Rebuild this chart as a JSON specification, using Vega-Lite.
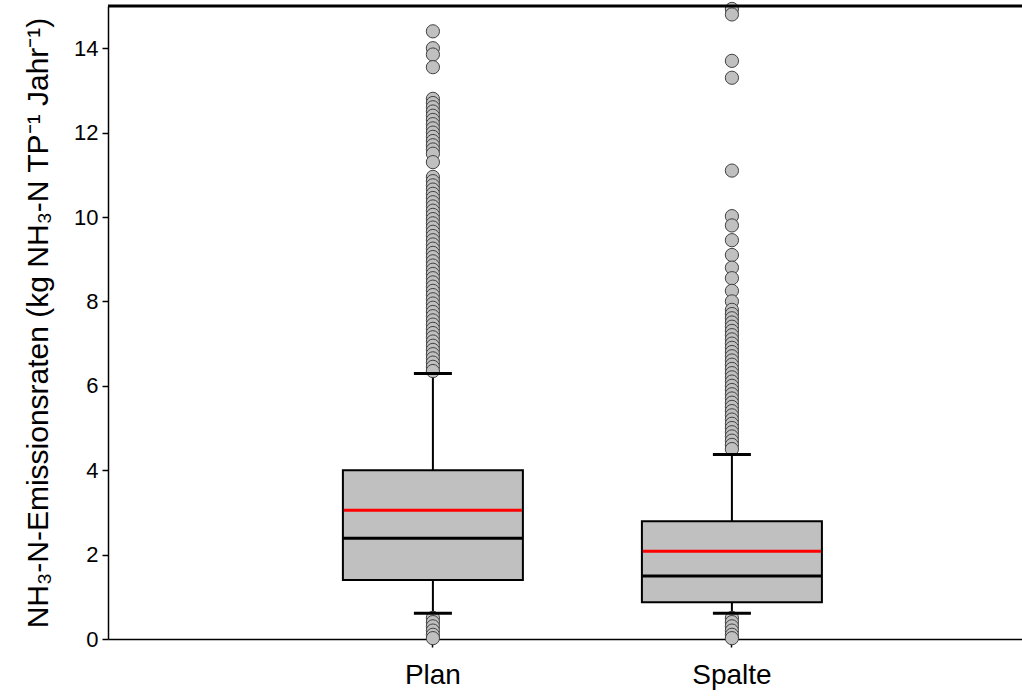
{
  "$schema": "https://vega.github.io/schema/vega-lite/v6.json",
  "autosize": "none",
  "width": 914,
  "height": 633,
  "padding": {"left": 108, "top": 6, "right": 0, "bottom": 57},
  "background": "white",
  "config": {
    "view": {"stroke": null},
    "font": "Liberation Sans",
    "axis": {"domainColor": "black", "tickColor": "black", "labelColor": "black", "titleColor": "black", "grid": false, "labelFont": "Liberation Sans", "titleFont": "Liberation Sans", "titleFontWeight": "normal"}
  },
  "datasets": {
    "box": [
      {"group": "Plan", "q1": 1.4, "q3": 4.0, "median": 2.39, "mean": 3.05, "lo": 0.61, "hi": 6.29},
      {"group": "Spalte", "q1": 0.87, "q3": 2.79, "median": 1.49, "mean": 2.08, "lo": 0.61, "hi": 4.37}
    ],
    "out": [
      {"group": "Plan", "value": 14.4}, {"group": "Plan", "value": 14.0}, {"group": "Plan", "value": 13.85}, {"group": "Plan", "value": 13.55},
      {"group": "Plan", "value": 12.8}, {"group": "Plan", "value": 12.7}, {"group": "Plan", "value": 12.6}, {"group": "Plan", "value": 12.5},
      {"group": "Plan", "value": 12.4}, {"group": "Plan", "value": 12.3}, {"group": "Plan", "value": 12.2}, {"group": "Plan", "value": 12.1},
      {"group": "Plan", "value": 12.0}, {"group": "Plan", "value": 11.9}, {"group": "Plan", "value": 11.8}, {"group": "Plan", "value": 11.7},
      {"group": "Plan", "value": 11.6}, {"group": "Plan", "value": 11.5}, {"group": "Plan", "value": 11.3}, {"group": "Plan", "value": 10.95},
      {"group": "Plan", "value": 10.85}, {"group": "Plan", "value": 10.75}, {"group": "Plan", "value": 10.65}, {"group": "Plan", "value": 10.55},
      {"group": "Plan", "value": 10.45}, {"group": "Plan", "value": 10.35}, {"group": "Plan", "value": 10.25}, {"group": "Plan", "value": 10.15},
      {"group": "Plan", "value": 10.05}, {"group": "Plan", "value": 9.95}, {"group": "Plan", "value": 9.85}, {"group": "Plan", "value": 9.75},
      {"group": "Plan", "value": 9.65}, {"group": "Plan", "value": 9.55}, {"group": "Plan", "value": 9.45}, {"group": "Plan", "value": 9.35},
      {"group": "Plan", "value": 9.25}, {"group": "Plan", "value": 9.15}, {"group": "Plan", "value": 9.05}, {"group": "Plan", "value": 8.95},
      {"group": "Plan", "value": 8.85}, {"group": "Plan", "value": 8.75}, {"group": "Plan", "value": 8.65}, {"group": "Plan", "value": 8.55},
      {"group": "Plan", "value": 8.45}, {"group": "Plan", "value": 8.35}, {"group": "Plan", "value": 8.25}, {"group": "Plan", "value": 8.15},
      {"group": "Plan", "value": 8.05}, {"group": "Plan", "value": 7.95}, {"group": "Plan", "value": 7.85}, {"group": "Plan", "value": 7.75},
      {"group": "Plan", "value": 7.65}, {"group": "Plan", "value": 7.55}, {"group": "Plan", "value": 7.45}, {"group": "Plan", "value": 7.35},
      {"group": "Plan", "value": 7.25}, {"group": "Plan", "value": 7.15}, {"group": "Plan", "value": 7.05}, {"group": "Plan", "value": 6.95},
      {"group": "Plan", "value": 6.85}, {"group": "Plan", "value": 6.75}, {"group": "Plan", "value": 6.65}, {"group": "Plan", "value": 6.55},
      {"group": "Plan", "value": 6.45}, {"group": "Plan", "value": 6.35},
      {"group": "Plan", "value": 0.5}, {"group": "Plan", "value": 0.4}, {"group": "Plan", "value": 0.3}, {"group": "Plan", "value": 0.2},
      {"group": "Plan", "value": 0.1}, {"group": "Plan", "value": 0.02},
      {"group": "Spalte", "value": 14.93}, {"group": "Spalte", "value": 14.8}, {"group": "Spalte", "value": 13.7}, {"group": "Spalte", "value": 13.3},
      {"group": "Spalte", "value": 11.1}, {"group": "Spalte", "value": 10.02}, {"group": "Spalte", "value": 9.8}, {"group": "Spalte", "value": 9.45},
      {"group": "Spalte", "value": 9.1}, {"group": "Spalte", "value": 8.8}, {"group": "Spalte", "value": 8.55}, {"group": "Spalte", "value": 8.25},
      {"group": "Spalte", "value": 8.0}, {"group": "Spalte", "value": 7.8}, {"group": "Spalte", "value": 7.7}, {"group": "Spalte", "value": 7.6},
      {"group": "Spalte", "value": 7.5}, {"group": "Spalte", "value": 7.4}, {"group": "Spalte", "value": 7.3}, {"group": "Spalte", "value": 7.2},
      {"group": "Spalte", "value": 7.1}, {"group": "Spalte", "value": 7.0}, {"group": "Spalte", "value": 6.9}, {"group": "Spalte", "value": 6.8},
      {"group": "Spalte", "value": 6.7}, {"group": "Spalte", "value": 6.6}, {"group": "Spalte", "value": 6.5}, {"group": "Spalte", "value": 6.4},
      {"group": "Spalte", "value": 6.3}, {"group": "Spalte", "value": 6.2}, {"group": "Spalte", "value": 6.1}, {"group": "Spalte", "value": 6.0},
      {"group": "Spalte", "value": 5.9}, {"group": "Spalte", "value": 5.8}, {"group": "Spalte", "value": 5.7}, {"group": "Spalte", "value": 5.6},
      {"group": "Spalte", "value": 5.5}, {"group": "Spalte", "value": 5.4}, {"group": "Spalte", "value": 5.3}, {"group": "Spalte", "value": 5.2},
      {"group": "Spalte", "value": 5.1}, {"group": "Spalte", "value": 5.0}, {"group": "Spalte", "value": 4.9}, {"group": "Spalte", "value": 4.8},
      {"group": "Spalte", "value": 4.7}, {"group": "Spalte", "value": 4.6}, {"group": "Spalte", "value": 4.5},
      {"group": "Spalte", "value": 0.5}, {"group": "Spalte", "value": 0.4}, {"group": "Spalte", "value": 0.3}, {"group": "Spalte", "value": 0.2},
      {"group": "Spalte", "value": 0.1}, {"group": "Spalte", "value": 0.02}
    ]
  },
  "layer": [
    {
      "data": {"name": "box"},
      "mark": {"type": "rule", "color": "black", "strokeWidth": 2},
      "encoding": {
        "x": {
          "field": "group", "type": "nominal",
          "scale": {"type": "band", "domain": ["Plan", "Spalte"], "paddingInner": 0.398, "paddingOuter": 0.7274, "align": 0.54},
          "axis": {"title": null, "labelAngle": 0, "labelFontSize": 28, "labelPadding": 14, "tickSize": 8, "tickWidth": 1.5, "domainWidth": 1.5}
        },
        "y": {"field": "lo", "type": "quantitative", "scale": {"domain": [0, 15], "nice": false, "zero": false},
          "axis": {"title": "NH₃-N-Emissionsraten (kg NH₃-N TP⁻¹ Jahr⁻¹)", "titleFontSize": 30, "titlePadding": 20, "labelFontSize": 22, "labelPadding": 4, "tickSize": 6, "tickWidth": 1.5, "domainWidth": 1.5, "values": [0, 2, 4, 6, 8, 10, 12, 14]}},
        "y2": {"field": "hi"}
      }
    },
    {
      "data": {"name": "box"},
      "mark": {"type": "bar", "fill": "#c0c0c0", "stroke": "black", "strokeWidth": 2, "opacity": 1},
      "encoding": {"x": {"field": "group", "type": "nominal"}, "y": {"field": "q1", "type": "quantitative"}, "y2": {"field": "q3"}}
    },
    {
      "data": {"name": "box"},
      "mark": {"type": "tick", "color": "black", "size": 180, "thickness": 3, "opacity": 1},
      "encoding": {"x": {"field": "group", "type": "nominal"}, "y": {"field": "median", "type": "quantitative"}}
    },
    {
      "data": {"name": "box"},
      "mark": {"type": "tick", "color": "#ff0000", "size": 178, "thickness": 3, "opacity": 1},
      "encoding": {"x": {"field": "group", "type": "nominal"}, "y": {"field": "mean", "type": "quantitative"}}
    },
    {
      "data": {"name": "out"},
      "mark": {"type": "point", "shape": "circle", "filled": true, "fill": "#c0c0c0", "stroke": "#404040", "strokeWidth": 1, "size": 175, "opacity": 1},
      "encoding": {"x": {"field": "group", "type": "nominal"}, "y": {"field": "value", "type": "quantitative"}}
    },
    {
      "data": {"name": "box"},
      "mark": {"type": "tick", "color": "black", "size": 38, "thickness": 3, "opacity": 1},
      "encoding": {"x": {"field": "group", "type": "nominal"}, "y": {"field": "hi", "type": "quantitative"}}
    },
    {
      "data": {"name": "box"},
      "mark": {"type": "tick", "color": "black", "size": 38, "thickness": 3, "opacity": 1},
      "encoding": {"x": {"field": "group", "type": "nominal"}, "y": {"field": "lo", "type": "quantitative"}}
    },
    {
      "data": {"values": [{}]},
      "mark": {"type": "rule", "color": "black", "strokeWidth": 3},
      "encoding": {"y": {"datum": 15}}
    }
  ]
}
